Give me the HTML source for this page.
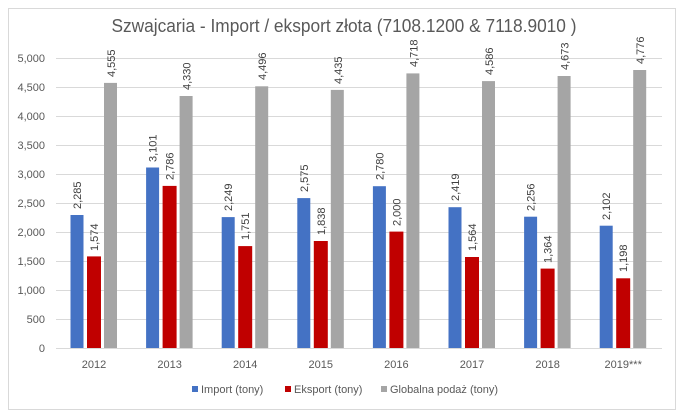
<!DOCTYPE html>
<html><head><meta charset="utf-8"><style>
html,body{margin:0;padding:0;background:#fff;}
svg{display:block;font-family:"Liberation Sans",sans-serif;}
</style></head><body>
<svg width="685" height="418" viewBox="0 0 685 418" xmlns="http://www.w3.org/2000/svg">
<rect x="0" y="0" width="685" height="418" fill="#fff"/>
<rect x="8.5" y="8.5" width="667" height="401" fill="#fff" stroke="#d9d9d9"/>
<text x="344" y="32" text-anchor="middle" font-size="18" fill="#595959" textLength="465" lengthAdjust="spacingAndGlyphs">Szwajcaria - Import / eksport złota (7108.1200 &amp; 7118.9010 )</text>
<g stroke="#d9d9d9" stroke-width="1">
<line x1="56" x2="662" y1="58.5" y2="58.5"/><line x1="56" x2="662" y1="87.5" y2="87.5"/>
<line x1="56" x2="662" y1="116.5" y2="116.5"/><line x1="56" x2="662" y1="145.5" y2="145.5"/>
<line x1="56" x2="662" y1="174.5" y2="174.5"/><line x1="56" x2="662" y1="203.5" y2="203.5"/>
<line x1="56" x2="662" y1="232.5" y2="232.5"/><line x1="56" x2="662" y1="261.5" y2="261.5"/>
<line x1="56" x2="662" y1="290.5" y2="290.5"/><line x1="56" x2="662" y1="319.5" y2="319.5"/>
<line x1="56" x2="662" y1="348.5" y2="348.5"/>
</g>
<g font-size="11" fill="#595959" text-anchor="end">
<text x="45" y="62">5,000</text><text x="45" y="91">4,500</text><text x="45" y="120">4,000</text>
<text x="45" y="149">3,500</text><text x="45" y="178">3,000</text><text x="45" y="207">2,500</text>
<text x="45" y="236">2,000</text><text x="45" y="265">1,500</text><text x="45" y="294">1,000</text>
<text x="45" y="323">500</text><text x="45" y="352">0</text>
</g>
<g font-size="11" fill="#595959" text-anchor="middle">
<text x="94" y="368">2012</text><text x="169.6" y="368">2013</text><text x="245.2" y="368">2014</text>
<text x="320.8" y="368">2015</text><text x="396.4" y="368">2016</text><text x="472" y="368">2017</text>
<text x="547.6" y="368">2018</text><text x="623.2" y="368">2019***</text>
</g>
<g transform="translate(0,348) scale(1,-1)">
<g fill="#4472c4">
<rect x="70.5" y="0" width="13" height="133.0"/><rect x="146.1" y="0" width="13" height="180.5"/>
<rect x="221.7" y="0" width="13" height="130.9"/><rect x="297.3" y="0" width="13" height="149.9"/>
<rect x="372.9" y="0" width="13" height="161.8"/><rect x="448.5" y="0" width="13" height="140.8"/>
<rect x="524.1" y="0" width="13" height="131.3"/><rect x="599.7" y="0" width="13" height="122.3"/>
</g>
<g fill="#c00000">
<rect x="87" y="0" width="14" height="91.6"/><rect x="162.6" y="0" width="14" height="162.1"/>
<rect x="238.2" y="0" width="14" height="101.9"/><rect x="313.8" y="0" width="14" height="107.0"/>
<rect x="389.4" y="0" width="14" height="116.4"/><rect x="465" y="0" width="14" height="91.0"/>
<rect x="540.6" y="0" width="14" height="79.4"/><rect x="616.2" y="0" width="14" height="69.7"/>
</g>
<g fill="#a5a5a5">
<rect x="104" y="0" width="13" height="265.1"/><rect x="179.6" y="0" width="13" height="252.0"/>
<rect x="255.2" y="0" width="13" height="261.7"/><rect x="330.8" y="0" width="13" height="258.1"/>
<rect x="406.4" y="0" width="13" height="274.6"/><rect x="482" y="0" width="13" height="266.9"/>
<rect x="557.6" y="0" width="13" height="272.0"/><rect x="633.2" y="0" width="13" height="278.0"/>
</g>
</g>
<g font-size="11" fill="#404040">
<text transform="translate(81,209) rotate(-90)">2,285</text>
<text transform="translate(98,251) rotate(-90)">1,574</text>
<text transform="translate(115,77) rotate(-90)">4,555</text>
<text transform="translate(156.6,162) rotate(-90)">3,101</text>
<text transform="translate(173.6,180) rotate(-90)">2,786</text>
<text transform="translate(190.6,90) rotate(-90)">4,330</text>
<text transform="translate(232.2,211) rotate(-90)">2,249</text>
<text transform="translate(249.2,240) rotate(-90)">1,751</text>
<text transform="translate(266.2,80) rotate(-90)">4,496</text>
<text transform="translate(307.8,192) rotate(-90)">2,575</text>
<text transform="translate(324.8,235) rotate(-90)">1,838</text>
<text transform="translate(341.8,84) rotate(-90)">4,435</text>
<text transform="translate(383.4,180) rotate(-90)">2,780</text>
<text transform="translate(400.4,226) rotate(-90)">2,000</text>
<text transform="translate(417.4,67) rotate(-90)">4,718</text>
<text transform="translate(459,201) rotate(-90)">2,419</text>
<text transform="translate(476,251) rotate(-90)">1,564</text>
<text transform="translate(493,75) rotate(-90)">4,586</text>
<text transform="translate(534.6,211) rotate(-90)">2,256</text>
<text transform="translate(551.6,263) rotate(-90)">1,364</text>
<text transform="translate(568.6,70) rotate(-90)">4,673</text>
<text transform="translate(610.2,220) rotate(-90)">2,102</text>
<text transform="translate(627.2,272) rotate(-90)">1,198</text>
<text transform="translate(644.2,64) rotate(-90)">4,776</text>
</g>
<g font-size="11" fill="#595959">
<rect x="192" y="386" width="6" height="6" fill="#4472c4"/><text x="201" y="393">Import (tony)</text>
<rect x="285" y="386" width="6" height="6" fill="#c00000"/><text x="294" y="393">Eksport (tony)</text>
<rect x="381" y="386" width="6" height="6" fill="#a5a5a5"/><text x="390" y="393" textLength="108" lengthAdjust="spacingAndGlyphs">Globalna podaż (tony)</text>
</g>
</svg>
</body></html>
